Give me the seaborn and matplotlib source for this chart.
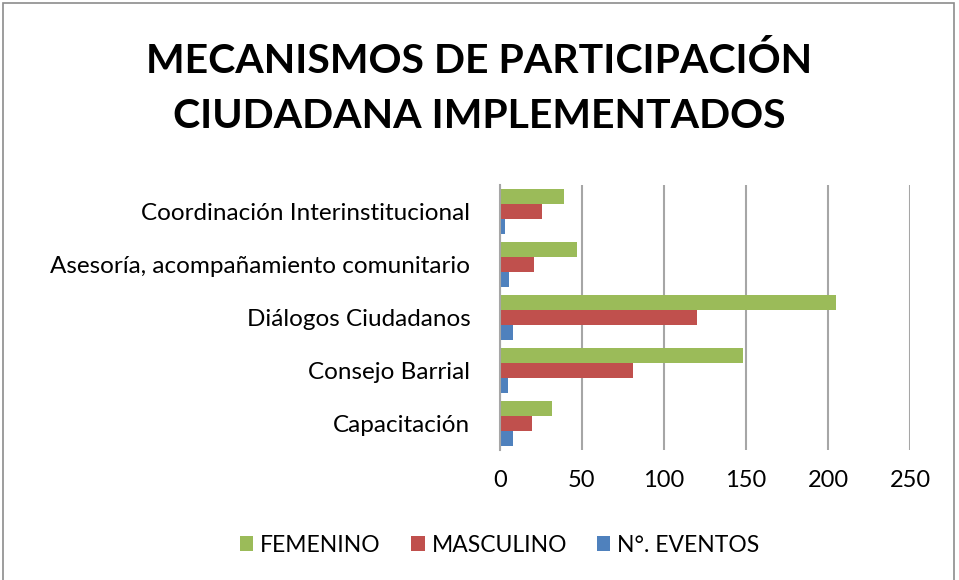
import pandas as pd
import matplotlib.pyplot as plt
import seaborn as sns
from matplotlib.patches import Rectangle

# Data
categories = ["Coordinación Interinstitucional", "Asesoría, acompañamiento comunitario",
              "Diálogos Ciudadanos", "Consejo Barrial", "Capacitación"]
femenino = [39, 47, 205, 148, 32]
masculino = [26, 21, 120, 81, 20]
eventos = [3, 6, 8, 5, 8]
series = ["FEMENINO", "MASCULINO", "N°. EVENTOS"]
colors = ["#9BBB59", "#C0504D", "#4F81BD"]

df = pd.DataFrame({
    "Mecanismo": categories * 3,
    "Valor": femenino + masculino + eventos,
    "Serie": [series[0]] * 5 + [series[1]] * 5 + [series[2]] * 5,
})

sns.set_style("white")
plt.rcParams['font.family'] = ['Lato', 'DejaVu Sans']
plt.rcParams['text.color'] = 'black'

fig = plt.figure(figsize=(9.59, 5.8), dpi=100)
ax = fig.add_axes([0.521, 0.224, 0.428, 0.457])

sns.barplot(data=df, x="Valor", y="Mecanismo", hue="Serie", order=categories,
            hue_order=series, palette=colors, orient="h", width=0.86, gap=0.04,
            edgecolor="none", saturation=1, ax=ax)

ax.set_xlim(0, 250)
ax.set_xticks([0, 50, 100, 150, 200, 250])
ax.xaxis.grid(True, color="#A6A6A6", linewidth=1.5)
ax.set_axisbelow(True)
ax.set_xlabel("")
ax.set_ylabel("")
ax.tick_params(axis="both", length=0, colors="black")
ax.tick_params(axis="y", labelsize=17.5, pad=21)
ax.tick_params(axis="x", labelsize=17, pad=14)
for side in ["top", "right", "bottom"]:
    ax.spines[side].set_visible(False)
ax.spines["left"].set_color("#A6A6A6")
ax.spines["left"].set_linewidth(1.5)

ax.legend(loc="center", bbox_to_anchor=(0.521, 0.06), bbox_transform=fig.transFigure,
          ncol=3, frameon=False, fontsize=16.5, handlelength=0.6, handleheight=0.6,
          handletextpad=0.3, columnspacing=1.3)

fig.text(0.5, 0.895, "MECANISMOS DE PARTICIPACIÓN", ha="center", va="center",
         fontsize=29.5, fontweight="bold", color="black")
fig.text(0.5, 0.8, "CIUDADANA IMPLEMENTADOS", ha="center", va="center",
         fontsize=29.5, fontweight="bold", color="black")

fig.patches.append(Rectangle((0.003, -0.01), 0.992, 1.005, transform=fig.transFigure,
                             fill=False, edgecolor="#8C8C8C", linewidth=1.2))

fig.savefig("out.png", dpi=100)
